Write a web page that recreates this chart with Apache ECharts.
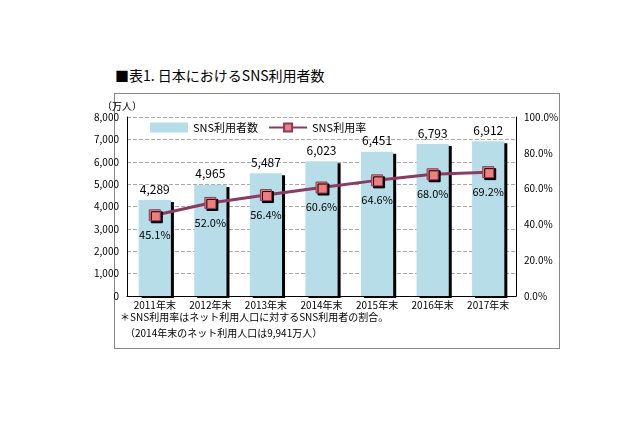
<!DOCTYPE html>
<html><head><meta charset="utf-8">
<script src="https://cdn.jsdelivr.net/npm/echarts@6/dist/echarts.min.js"></script>
<style>
body{margin:0;background:#fff;font-family:"Noto Sans CJK JP",sans-serif;}
#title{position:absolute;left:115px;top:65px;font-size:14px;color:#000;}
#frame{position:absolute;left:114px;top:93px;width:444px;height:254px;border:1px solid #888;}
#main{position:absolute;left:0;top:0;width:640px;height:426px;}
</style></head><body>
<div id="title">■表1. 日本におけるSNS利用者数</div>
<div id="frame"></div>
<div id="main"></div>
<script>
var years = ['2011年末','2012年末','2013年末','2014年末','2015年末','2016年末','2017年末'];
var users = [4289,4965,5487,6023,6451,6793,6912];
var rate = [45.1,52.0,56.4,60.6,64.6,68.0,69.2];

var myChart = echarts.init(document.getElementById('main'));
var font = '"Noto Sans CJK JP",sans-serif';
myChart.setOption({
    animation:false,
    textStyle:{fontFamily:font},
    grid:{left:127,right:124,top:117,bottom:130},
    legend:{
        left:145,top:117,itemGap:10,
        textStyle:{fontSize:11,color:'#000',fontFamily:font},
        data:[{name:'SNS利用者数',icon:'rect'},{name:'SNS利用率'}],
        itemWidth:38,itemHeight:10
    },
    xAxis:{
        type:'category',data:years,
        axisTick:{show:false},
        axisLine:{lineStyle:{color:'#000'}},
        axisLabel:{fontSize:10,color:'#000',margin:4}
    },
    yAxis:[{
        type:'value',min:0,max:8000,interval:1000,name:'（万人）',
        nameGap:6,nameTextStyle:{fontSize:10,color:'#000',align:'right',padding:[0,-15,0,0]},
        axisLine:{show:true,lineStyle:{color:'#000'}},
        axisLabel:{fontSize:10,color:'#000',formatter:function(v){return v.toLocaleString('en-US');}},
        splitLine:{lineStyle:{type:'dashed',color:'#aaa'}}
    },{
        type:'value',min:0,max:100,interval:20,
        axisLine:{show:true,lineStyle:{color:'#000'}},
        axisLabel:{fontSize:10,color:'#000',formatter:function(v){return v.toFixed(1)+'%';}},
        splitLine:{show:false}
    }],
    series:[{
        name:'SNS利用者数',type:'bar',data:users,barWidth:'58%',
        itemStyle:{color:'#b7dde8',shadowColor:'#000',shadowOffsetX:3,shadowOffsetY:2},
        label:{show:true,position:'top',fontSize:12,color:'#000',
            formatter:function(p){return p.value.toLocaleString('en-US');}}
    },{
        name:'SNS利用率',type:'line',yAxisIndex:1,data:rate,
        symbol:'rect',symbolSize:11,
        lineStyle:{color:'#8b3a62',width:3},
        itemStyle:{color:'#ef7f7a',borderColor:'#8b3a62',borderWidth:1,shadowColor:'#000',shadowOffsetX:2,shadowOffsetY:2},
        label:{show:true,position:'bottom',distance:8,fontSize:11,color:'#000',
            formatter:function(p){return p.value.toFixed(1)+'%';}}
    }],
    graphic:[
        {type:'text',left:120,top:312,style:{text:'＊SNS利用率はネット利用人口に対するSNS利用者の割合。',fontSize:10,fill:'#000',fontFamily:font}},
        {type:'text',left:125,top:328,style:{text:'（2014年末のネット利用人口は9,941万人）',fontSize:10,fill:'#000',fontFamily:font}}
    ]
});
</script>
</body></html>
